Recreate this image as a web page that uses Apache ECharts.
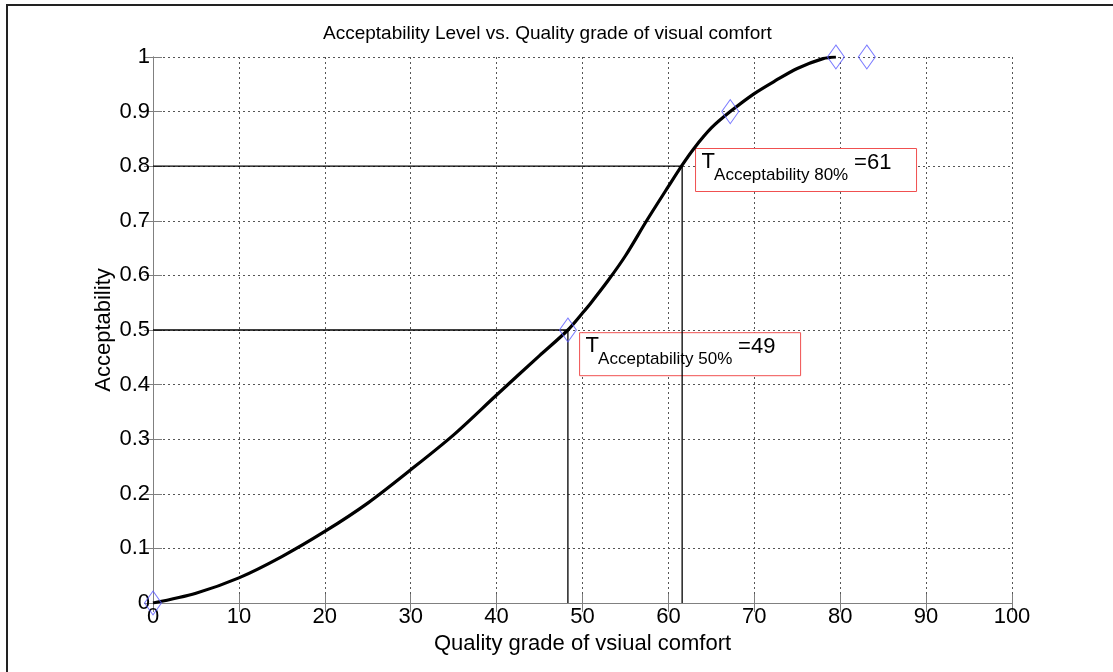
<!DOCTYPE html>
<html>
<head>
<meta charset="utf-8">
<script src="https://cdn.jsdelivr.net/npm/echarts@6/dist/echarts.min.js"></script>
<style>
html,body{margin:0;padding:0;background:#fff;}
#chart{width:1113px;height:672px;}
</style>
</head>
<body>
<div id="chart"></div>
<script>
// ---- data ----
const titleText = 'Acceptability Level vs. Quality grade of visual comfort';
const xAxisTitle = 'Quality grade of vsiual comfort';
const yAxisTitle = 'Acceptability';
const curveX = [0, 5, 10, 15, 20, 25, 30, 35, 40, 45, 48.3, 50, 51, 53, 55, 57.5, 60, 61.6, 63, 65, 67.2, 70, 72.5, 75, 78, 79.5];
const curveY = [0, 0.018, 0.046, 0.085, 0.131, 0.183, 0.244, 0.308, 0.381, 0.453, 0.5, 0.531, 0.55, 0.591, 0.636, 0.701, 0.763, 0.802, 0.833, 0.870, 0.9, 0.933, 0.957, 0.979, 0.997, 1.0];
const markX = [0, 48.3, 67.2, 79.5, 83.1];
const markY = [0, 0.5, 0.9, 1, 1];
const thrX = [48.3, 61.6];
const thrY = [0.5, 0.8];
const thrSub = ['Acceptability 50%', 'Acceptability 80%'];
const thrVal = ['=49', '=61'];

// ---- layout ----
const FONT = '"Liberation Sans", Arial, sans-serif';
const boxOffset = [[11.7, 2.7], [13.4, -17.7]]; // px offset of annotation box from threshold point
const boxSize = [221, 43];

const chart = echarts.init(document.getElementById('chart'), null, {renderer: 'canvas'});

const thrLines = [];
for (let i = 0; i < thrX.length; i++) {
  thrLines.push([[0, thrY[i]], [thrX[i], thrY[i]], [thrX[i], 0]]);
}

const gridStyle = {show: true, lineStyle: {color: '#555', width: 1, type: [2, 3]}};
const axisLineStyle = {show: true, lineStyle: {color: '#808080', width: 1}};
const tickStyle = {show: true, inside: true, length: 9, lineStyle: {color: '#808080', width: 1}};

const option = {
  animation: false,
  backgroundColor: '#fff',
  title: {
    text: titleText, left: 318, top: 19,
    textStyle: {fontFamily: FONT, fontSize: 19, fontWeight: 'normal', color: '#000'}
  },
  grid: {left: 153, right: 101, top: 57, bottom: 69, containLabel: false},
  xAxis: [{
    type: 'value', min: 0, max: 100, interval: 10,
    name: xAxisTitle, nameLocation: 'middle', nameGap: 26,
    nameTextStyle: {fontFamily: FONT, fontSize: 22, color: '#000'},
    axisLine: axisLineStyle, axisTick: tickStyle, splitLine: gridStyle,
    axisLabel: {fontFamily: FONT, fontSize: 22, color: '#000', margin: 3}
  }, {
    type: 'value', min: 0, max: 100, interval: 10, position: 'top',
    axisLine: axisLineStyle, axisTick: tickStyle, splitLine: {show: false},
    axisLabel: {show: false}
  }],
  yAxis: [{
    type: 'value', min: 0, max: 1, interval: 0.1,
    name: yAxisTitle, nameLocation: 'middle', nameGap: 38, nameRotate: 90,
    nameMoveOverlap: false,
    nameTextStyle: {fontFamily: FONT, fontSize: 22, color: '#000'},
    axisLine: axisLineStyle, axisTick: tickStyle, splitLine: gridStyle,
    axisLabel: {fontFamily: FONT, fontSize: 22, color: '#000', margin: 3,
      formatter: v => String(Math.round(v * 10) / 10)}
  }, {
    type: 'value', min: 0, max: 1, interval: 0.1, position: 'right',
    axisLine: axisLineStyle, axisTick: tickStyle, splitLine: {show: false},
    axisLabel: {show: false}
  }],
  series: [
    ...thrLines.map(pts => ({
      type: 'line', data: pts, showSymbol: false, symbol: 'none', z: 3,
      lineStyle: {color: '#000', width: 1.3}, silent: true
    })),
    {
      type: 'line', data: curveX.map((x, i) => [x, curveY[i]]),
      smooth: 0.3, symbol: 'none', z: 4,
      lineStyle: {color: '#000', width: 3.2}
    },
    {
      type: 'scatter', data: markX.map((x, i) => [x, markY[i]]),
      symbol: 'diamond', symbolSize: [17, 24], clip: false, z: 5,
      itemStyle: {color: 'rgba(0,0,0,0)', borderColor: '#5a5aff', borderWidth: 1}
    }
  ]
};
chart.setOption(option);

// annotation boxes anchored to threshold points
const graphics = [{
  type: 'rect', silent: true, z: 100,
  shape: {x: 7, y: 5, width: 1200, height: 800},
  style: {fill: null, stroke: '#222', lineWidth: 2}
}];
for (let i = 0; i < thrX.length; i++) {
  const p = chart.convertToPixel({xAxisIndex: 0, yAxisIndex: 0}, [thrX[i], thrY[i]]);
  const bx = p[0] + boxOffset[i][0];
  const by = p[1] + boxOffset[i][1];
  graphics.push({
    type: 'group', x: bx, y: by, z: 50,
    children: [
      {type: 'rect', shape: {x: 0, y: 0, width: boxSize[0], height: boxSize[1]},
        style: {fill: '#fff', stroke: '#f05050', lineWidth: 1}},
      {type: 'text', x: 6, y: 24,
        style: {text: 'T', font: '22px ' + FONT, fill: '#000', textVerticalAlign: 'bottom', verticalAlign: 'bottom'}},
      {type: 'text', x: 18.5, y: 35,
        style: {text: thrSub[i], font: '17px ' + FONT, fill: '#000', textVerticalAlign: 'bottom', verticalAlign: 'bottom'}},
      {type: 'text', x: 158.5, y: 25,
        style: {text: thrVal[i], font: '22px ' + FONT, fill: '#000', textVerticalAlign: 'bottom', verticalAlign: 'bottom'}}
    ]
  });
}
chart.setOption({graphic: graphics});
</script>
</body>
</html>
